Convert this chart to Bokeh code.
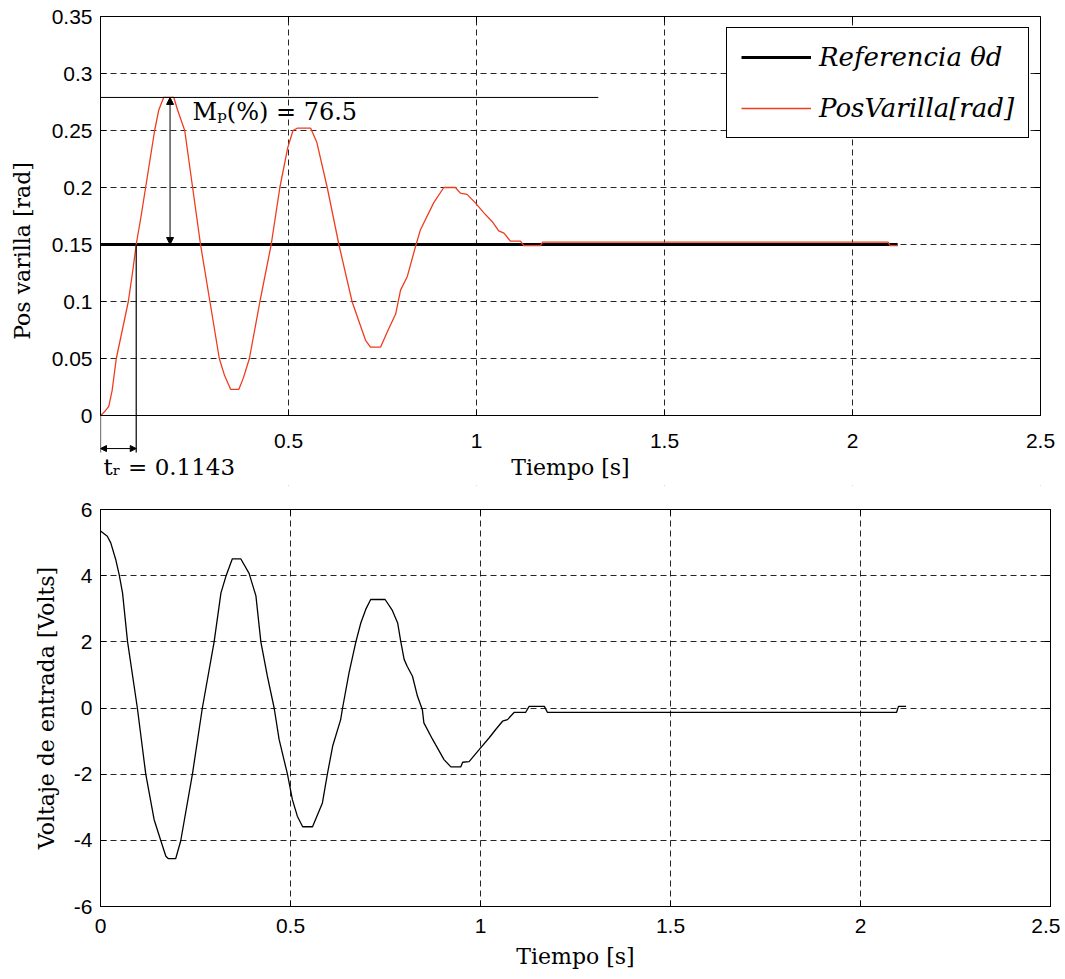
import numpy as np
from bokeh.plotting import figure
from bokeh.models import (Range1d, FixedTicker, NumeralTickFormatter, Legend, LegendItem,
                          Arrow, NormalHead, Label, LinearAxis, BoxAnnotation)
from bokeh.layouts import column
from bokeh.embed import file_html
from bokeh.resources import INLINE

# ---------------- data ----------------
t_pos = [0.000, 0.010, 0.022, 0.031, 0.042, 0.058, 0.074, 0.085, 0.095, 0.108, 0.120, 0.132,
         0.144, 0.155, 0.168, 0.195, 0.205, 0.224, 0.245, 0.266, 0.291, 0.316, 0.330, 0.346,
         0.368, 0.380, 0.396, 0.424, 0.454, 0.477, 0.498, 0.512, 0.523, 0.559, 0.575, 0.603,
         0.634, 0.669, 0.690, 0.705, 0.718, 0.745, 0.765, 0.785, 0.798, 0.816, 0.838, 0.851,
         0.886, 0.913, 0.944, 0.957, 0.975, 0.997, 1.019, 1.042, 1.059, 1.073, 1.090, 1.117,
         1.126, 1.170, 1.176, 2.095, 2.100, 2.120]
pos = [0.000, 0.003, 0.008, 0.022, 0.050, 0.075, 0.100, 0.125, 0.150, 0.175, 0.200, 0.225,
       0.250, 0.268, 0.279, 0.279, 0.268, 0.250, 0.200, 0.150, 0.100, 0.050, 0.035, 0.023,
       0.023, 0.033, 0.050, 0.100, 0.150, 0.200, 0.235, 0.250, 0.252, 0.252, 0.240, 0.200,
       0.150, 0.100, 0.080, 0.066, 0.060, 0.060, 0.075, 0.089, 0.110, 0.122, 0.1485, 0.163,
       0.1865, 0.200, 0.200, 0.195, 0.194, 0.1865, 0.178, 0.170, 0.162, 0.160, 0.153, 0.153,
       0.149, 0.149, 0.152, 0.152, 0.149, 0.149]

t_ref = [0.0, 2.12]
ref = [0.15, 0.15]

t_volt = [0.000, 0.018, 0.027, 0.040, 0.049, 0.058, 0.071, 0.097, 0.119, 0.141, 0.159, 0.172,
          0.178, 0.198, 0.211, 0.242, 0.268, 0.299, 0.317, 0.330, 0.347, 0.369, 0.391, 0.409,
          0.422, 0.439, 0.457, 0.470, 0.492, 0.505, 0.518, 0.532, 0.558, 0.584, 0.597, 0.611,
          0.632, 0.637, 0.654, 0.672, 0.685, 0.698, 0.711, 0.749, 0.768, 0.782, 0.790, 0.799,
          0.807, 0.821, 0.834, 0.847, 0.851, 0.874, 0.904, 0.922, 0.948, 0.953, 0.970, 0.997,
          1.023, 1.040, 1.058, 1.071, 1.089, 1.119, 1.128, 1.168, 1.176, 2.095, 2.100, 2.120]
volt = [5.35, 5.19, 4.99, 4.49, 4.04, 3.48, 2.02, 0.00, -1.99, -3.37, -4.02, -4.48,
        -4.55, -4.55, -4.02, -1.99, 0.00, 2.00, 3.48, 3.98, 4.51, 4.51, 4.07, 3.39,
        2.00, 0.97, 0.00, -0.95, -2.00, -2.77, -3.27, -3.59, -3.59, -2.87, -2.00, -1.15,
        -0.35, 0.00, 1.06, 2.00, 2.57, 2.98, 3.28, 3.28, 2.95, 2.57, 2.02, 1.47,
        1.26, 0.96, 0.36, -0.05, -0.45, -0.95, -1.56, -1.78, -1.78, -1.64, -1.62, -1.25,
        -0.90, -0.65, -0.40, -0.35, -0.13, -0.13, 0.05, 0.05, -0.13, -0.13, 0.05, 0.05]

time_ticks = [0, 0.5, 1, 1.5, 2, 2.5]
pos_ticks = [0, 0.05, 0.1, 0.15, 0.2, 0.25, 0.3, 0.35]
volt_ticks = [-6, -4, -2, 0, 2, 4, 6]

legend_labels = ["Referencia θd", "PosVarilla[rad]"]
mp_text = "Mₚ(%) =  76.5"
tr_text = "tᵣ = 0.1143"
peak_line_end = 1.324      # extent of the overshoot guide line
arrow_x = 0.185            # where the Mp arrow is drawn
below_axis = -0.0325       # how far the tr guides reach below the axis
tr_arrow_y = -0.029

t_min, t_max = time_ticks[0], time_ticks[-1]
pos_min, pos_max = pos_ticks[0], pos_ticks[-1]
peak = max(pos)
tr_x = float(np.interp(ref[0], pos[:15], t_pos[:15]))

TICK_FONT = "Liberation Sans"
LABEL_FONT = "DejaVu Serif"
RED = "#f03c1e"


def tick_only_axis(ticks):
    # an axis that only draws its line and inward ticks (no labels are rendered)
    return LinearAxis(ticker=FixedTicker(ticks=ticks), major_tick_in=6, major_tick_out=0,
                      minor_tick_in=0, minor_tick_out=0, major_label_text_font_size="0px",
                      major_label_text_color=None, major_label_text_alpha=0,
                      axis_line_color="black", major_label_standoff=0)


def style(p, xticks, yticks, xfmt, yfmt, ylabel, ystand):
    p.background_fill_color = "white"
    p.border_fill_color = "white"
    p.outline_line_color = "black"
    p.outline_line_width = 1
    p.outline_line_alpha = 1
    xa = p.below[0]
    ya = p.left[0]
    for ax in (xa, ya):
        ax.major_tick_in = 6
        ax.major_tick_out = 0
        ax.minor_tick_in = 0
        ax.minor_tick_out = 0
        ax.axis_line_color = "black"
        ax.major_tick_line_color = "black"
        ax.major_label_text_font = TICK_FONT
        ax.major_label_text_font_size = "21px"
        ax.major_label_text_color = "black"
        ax.axis_label_text_font = LABEL_FONT
        ax.axis_label_text_font_size = "22px"
        ax.axis_label_text_font_style = "normal"
        ax.axis_label_text_color = "black"
    xa.ticker = FixedTicker(ticks=xticks)
    ya.ticker = FixedTicker(ticks=yticks)
    xa.formatter = xfmt
    ya.formatter = yfmt
    xa.axis_label = "Tiempo [s]"
    ya.axis_label = ylabel
    ya.major_label_standoff = 8
    ya.axis_label_standoff = ystand
    for g in (p.xgrid, p.ygrid):
        g.grid_line_color = "black"
        g.grid_line_alpha = 0.85
        g.grid_line_width = 1
        g.grid_line_dash = "6 4"
    p.xgrid.ticker = FixedTicker(ticks=xticks)
    p.ygrid.ticker = FixedTicker(ticks=yticks)
    r = tick_only_axis(yticks)
    a = tick_only_axis(xticks)
    p.add_layout(r, "right")
    p.add_layout(a, "above")
    return xa, ya, r, a


# ---------------- top plot ----------------
# The frame is a little larger than the data box (0..2.5, 0..0.35) so that the
# rise-time guides and the tick labels under the axis can be drawn; the box itself
# is drawn with axes at fixed locations.
x_pad = 18 / 376.0
y_pad = 70 / 1140.0
p1 = figure(frame_width=958, frame_height=469, x_range=Range1d(t_min, t_max + x_pad),
            y_range=Range1d(pos_min - y_pad, pos_max),
            output_backend="svg", toolbar_location=None,
            min_border_left=100, min_border_right=0, min_border_top=16, min_border_bottom=6)
xa1, ya1, r1, a1 = style(p1, time_ticks, pos_ticks, NumeralTickFormatter(format="0.[0]"),
                         NumeralTickFormatter(format="0.[00]"), "Pos varilla [rad]", 14)
p1.outline_line_color = None
xa1.fixed_location = pos_min
xa1.bounds = (t_min, t_max)
xa1.major_label_overrides = {0: " "}
xa1.major_label_standoff = 13
xa1.axis_label_standoff = 0
ya1.bounds = (pos_min, pos_max)
r1.bounds = (pos_min, pos_max)
r1.fixed_location = t_max
a1.bounds = (t_min, t_max)
# white covers for the parts of the frame outside the data box
p1.add_layout(BoxAnnotation(top=pos_min, fill_color="white", fill_alpha=1, line_color=None,
                            line_alpha=0, level="underlay"))
p1.add_layout(BoxAnnotation(left=t_max, fill_color="white", fill_alpha=1, line_color=None,
                            line_alpha=0, level="underlay"))

r_ref = p1.line(t_ref, ref, line_color="black", line_width=3)
r_pos = p1.line(t_pos, pos, line_color=RED, line_width=1.3)

# overshoot guide
p1.segment(x0=[0], y0=[peak], x1=[peak_line_end], y1=[peak], line_color="black", line_width=1)
p1.add_layout(Arrow(x_start=arrow_x, y_start=ref[0], x_end=arrow_x, y_end=peak,
                    start=NormalHead(size=7, fill_color="black", line_color="black"),
                    end=NormalHead(size=7, fill_color="black", line_color="black"),
                    line_color="black", line_width=1))
# rise time guides
p1.add_layout(Arrow(x_start=tr_x, y_start=ref[0], x_end=tr_x, y_end=below_axis, end=None,
                    line_color="black", line_width=1.2))
p1.add_layout(Arrow(x_start=0, y_start=0, x_end=0, y_end=below_axis, end=None,
                    line_color="black", line_width=1.2))
p1.add_layout(Arrow(x_start=0, y_start=tr_arrow_y, x_end=tr_x, y_end=tr_arrow_y,
                    start=NormalHead(size=6, fill_color="black", line_color="black"),
                    end=NormalHead(size=6, fill_color="black", line_color="black"),
                    line_color="black", line_width=1))
p1.add_layout(Label(x=0.245, y=0.266, text=mp_text, text_font=LABEL_FONT,
                    text_font_size="24px", text_baseline="middle", text_color="black"))
p1.add_layout(Label(x=0.008, y=-0.045, text=tr_text, text_font=LABEL_FONT,
                    text_font_size="23px", text_baseline="middle", text_color="black"))

legend = Legend(items=[LegendItem(label=legend_labels[0], renderers=[r_ref]),
                       LegendItem(label=legend_labels[1], renderers=[r_pos])],
                location=(626, 347), padding=14, spacing=21,
                label_height=30, glyph_height=30, glyph_width=70, label_standoff=8,
                border_line_color="black", border_line_width=1, border_line_alpha=1,
                background_fill_color="white", background_fill_alpha=1,
                label_text_font=LABEL_FONT, label_text_font_style="italic",
                label_text_font_size="26px", label_text_color="black")
p1.add_layout(legend)

# ---------------- bottom plot ----------------
p2 = figure(frame_width=950, frame_height=397, x_range=Range1d(t_min, t_max),
            y_range=Range1d(volt_ticks[0], volt_ticks[-1]),
            output_backend="svg", toolbar_location=None,
            min_border_left=100, min_border_right=10, min_border_top=18, min_border_bottom=62)
xa2, ya2, r2, a2 = style(p2, time_ticks, volt_ticks, NumeralTickFormatter(format="0.[0]"),
                         NumeralTickFormatter(format="0"), "Voltaje de entrada [Volts]", 12)
xa2.major_label_standoff = 12
xa2.axis_label_standoff = 8
p2.line(t_volt, volt, line_color="black", line_width=1.3)

layout = column(p1, p2, spacing=0)
open("out.html", "w").write(file_html(layout, INLINE))
